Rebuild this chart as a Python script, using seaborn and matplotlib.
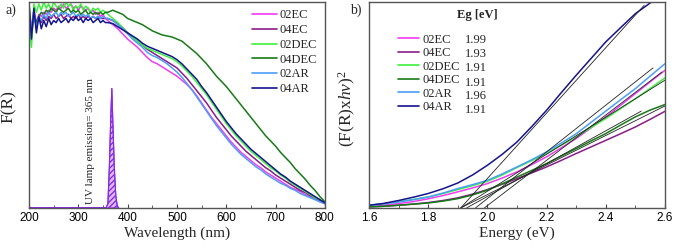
import numpy as np
import pandas as pd
import matplotlib
matplotlib.use("Agg")
import matplotlib.pyplot as plt
from matplotlib.ticker import MultipleLocator
import seaborn as sns

# ---------------- data ----------------
samples = ['02EC', '04EC', '02DEC', '04DEC', '02AR', '04AR']
colors = ['#f03cf0', '#8a1c8a', '#3cf03c', '#167a16', '#4a9ef5', '#14148c']
eg_values = ['1.99', '1.93', '1.91', '1.91', '1.96', '1.91']

# wavelength grid (nm): 5 nm steps in the noisy UV part, 10 nm above
wl_uv = list(range(200, 360, 5))
wl_vis = list(range(360, 810, 10))

fr_uv = {
    '02EC':  [0.95, 0.88, 0.96, 0.90, 0.94, 0.93, 0.95, 0.94, 0.96, 0.95, 0.97, 0.96, 0.98, 0.97, 0.99, 0.97,
              0.98, 0.99, 0.97, 0.98, 0.96, 0.98, 0.97, 0.96, 0.97, 0.95, 0.96, 0.94, 0.95, 0.93, 0.94, 0.92],
    '04EC':  [0.96, 0.84, 0.93, 0.89, 0.92, 0.90, 0.93, 0.91, 0.93, 0.92, 0.94, 0.92, 0.93, 0.94, 0.92, 0.93,
              0.94, 0.92, 0.93, 0.92, 0.94, 0.92, 0.93, 0.92, 0.93, 0.92, 0.93, 0.92, 0.93, 0.92, 0.92, 0.92],
    '02DEC': [0.93, 0.78, 0.99, 0.95, 0.99, 0.96, 1.00, 0.97, 0.99, 0.96, 1.00, 0.98, 0.97, 0.99, 0.97, 1.00,
              0.98, 0.99, 0.96, 0.98, 0.97, 0.99, 0.96, 0.98, 0.97, 0.95, 0.97, 0.96, 0.97, 0.95, 0.96, 0.95],
    '04DEC': [0.90, 0.86, 0.94, 0.90, 0.93, 0.95, 0.94, 0.96, 0.95, 0.97, 0.96, 0.95, 0.97, 0.96, 0.95, 0.96,
              0.97, 0.95, 0.96, 0.95, 0.96, 0.94, 0.95, 0.96, 0.94, 0.95, 0.94, 0.95, 0.94, 0.95, 0.94, 0.95],
    '02AR':  [0.99, 0.86, 0.95, 0.87, 0.93, 0.91, 0.94, 0.92, 0.95, 0.93, 0.94, 0.95, 0.93, 0.95, 0.94, 0.95,
              0.93, 0.94, 0.95, 0.93, 0.94, 0.93, 0.94, 0.93, 0.94, 0.92, 0.93, 0.92, 0.93, 0.92, 0.93, 0.92],
    '04AR':  [1.00, 0.82, 0.97, 0.85, 0.93, 0.87, 0.91, 0.88, 0.92, 0.89, 0.91, 0.90, 0.92, 0.90, 0.91, 0.92,
              0.90, 0.92, 0.91, 0.93, 0.91, 0.92, 0.90, 0.92, 0.91, 0.92, 0.90, 0.91, 0.92, 0.90, 0.91, 0.90],
}
fr_vis = {
    '02EC':  [0.91, 0.89, 0.87, 0.845, 0.82, 0.80, 0.78, 0.755, 0.73, 0.71, 0.70, 0.685, 0.67, 0.655, 0.64,
              0.62, 0.60, 0.575, 0.545, 0.51, 0.475, 0.44, 0.41, 0.38, 0.35, 0.32, 0.295, 0.27, 0.25, 0.23,
              0.21, 0.195, 0.175, 0.16, 0.145, 0.13, 0.115, 0.10, 0.09, 0.08, 0.065, 0.055, 0.045, 0.03, 0.02],
    '04EC':  [0.92, 0.91, 0.895, 0.875, 0.85, 0.83, 0.81, 0.79, 0.77, 0.755, 0.74, 0.725, 0.71, 0.695, 0.68,
              0.655, 0.63, 0.60, 0.57, 0.54, 0.51, 0.475, 0.44, 0.41, 0.38, 0.35, 0.325, 0.30, 0.275, 0.255,
              0.235, 0.215, 0.195, 0.18, 0.16, 0.145, 0.13, 0.115, 0.10, 0.085, 0.075, 0.06, 0.05, 0.035, 0.025],
    '02DEC': [0.94, 0.92, 0.90, 0.875, 0.85, 0.83, 0.81, 0.79, 0.775, 0.765, 0.755, 0.745, 0.735, 0.725, 0.71,
              0.69, 0.665, 0.64, 0.61, 0.58, 0.55, 0.515, 0.48, 0.445, 0.41, 0.38, 0.35, 0.325, 0.30, 0.275,
              0.255, 0.235, 0.215, 0.195, 0.18, 0.16, 0.145, 0.125, 0.11, 0.095, 0.08, 0.065, 0.05, 0.04, 0.025],
    '04DEC': [0.95, 0.96, 0.95, 0.94, 0.92, 0.91, 0.90, 0.89, 0.875, 0.86, 0.85, 0.84, 0.835, 0.83, 0.82,
              0.81, 0.79, 0.77, 0.75, 0.725, 0.70, 0.67, 0.64, 0.615, 0.59, 0.56, 0.53, 0.50, 0.47, 0.44,
              0.41, 0.38, 0.35, 0.325, 0.30, 0.27, 0.245, 0.22, 0.19, 0.165, 0.14, 0.11, 0.085, 0.055, 0.03],
    '02AR':  [0.92, 0.91, 0.89, 0.87, 0.845, 0.82, 0.80, 0.78, 0.755, 0.74, 0.73, 0.715, 0.70, 0.68, 0.66,
              0.635, 0.605, 0.575, 0.54, 0.505, 0.47, 0.435, 0.40, 0.37, 0.34, 0.31, 0.285, 0.26, 0.24, 0.22,
              0.20, 0.185, 0.165, 0.15, 0.135, 0.12, 0.11, 0.095, 0.085, 0.07, 0.06, 0.05, 0.04, 0.03, 0.02],
    '04AR':  [0.90, 0.895, 0.88, 0.865, 0.85, 0.835, 0.82, 0.80, 0.785, 0.775, 0.765, 0.755, 0.745, 0.735, 0.72,
              0.70, 0.675, 0.65, 0.625, 0.59, 0.56, 0.525, 0.49, 0.455, 0.42, 0.39, 0.36, 0.335, 0.31, 0.285,
              0.265, 0.245, 0.225, 0.205, 0.185, 0.165, 0.15, 0.13, 0.115, 0.10, 0.085, 0.07, 0.055, 0.04, 0.025],
}

# UV lamp emission peak
lamp_wl = [200, 356, 360, 363, 366, 368, 370, 373, 376, 379, 382]
lamp_val = [0.0, 0.0, 0.02, 0.2, 0.45, 0.58, 0.42, 0.2, 0.06, 0.01, 0.0]

# Tauc plot
energy = [1.6, 1.65, 1.7, 1.75, 1.8, 1.85, 1.9, 1.95, 2.0, 2.05, 2.1,
          2.15, 2.2, 2.25, 2.3, 2.35, 2.4, 2.45, 2.5, 2.55, 2.6]
tauc = {
    '02EC':  [0.08, 0.14, 0.21, 0.31, 0.44, 0.60, 0.78, 0.97, 1.18, 1.45, 1.75,
              2.10, 2.48, 2.92, 3.37, 3.88, 4.42, 4.98, 5.55, 6.12, 6.68],
    '04EC':  [0.05, 0.08, 0.13, 0.19, 0.26, 0.36, 0.49, 0.67, 0.89, 1.15, 1.42,
              1.70, 1.99, 2.31, 2.64, 2.96, 3.28, 3.60, 3.93, 4.30, 4.69],
    '02DEC': [0.12, 0.20, 0.30, 0.41, 0.53, 0.70, 0.89, 1.08, 1.29, 1.60, 1.96,
              2.30, 2.64, 3.05, 3.45, 3.90, 4.34, 4.82, 5.30, 5.80, 6.31],
    '04DEC': [0.05, 0.08, 0.13, 0.18, 0.24, 0.33, 0.45, 0.63, 0.86, 1.17, 1.50,
              1.82, 2.15, 2.52, 2.88, 3.25, 3.61, 4.02, 4.42, 4.75, 5.02],
    '02AR':  [0.13, 0.20, 0.29, 0.40, 0.53, 0.72, 0.94, 1.13, 1.34, 1.65, 1.99,
              2.34, 2.72, 3.15, 3.60, 4.15, 4.70, 5.25, 5.79, 6.40, 7.00],
    '04AR':  [0.13, 0.22, 0.36, 0.52, 0.70, 0.93, 1.21, 1.60, 2.07, 2.60, 3.20,
              3.95, 4.74, 5.60, 6.44, 7.25, 8.06, 8.75, 9.43, 9.95, 10.5],
}
# linear fits: x-intercept (Eg) and upper end of each fit line
fit_eg = [1.99, 1.93, 1.91, 1.91, 1.96, 1.91]
fit_end_e = [2.59, 2.52, 2.60, 2.60, 2.56, 2.53]
fit_end_y = [6.60, 4.70, 6.20, 4.95, 6.80, 9.84]

# ---------------- long tables ----------------
wl = wl_uv + wl_vis
df_fr = pd.concat([pd.DataFrame({'wl': wl, 'F': fr_uv[s] + fr_vis[s], 'sample': s}) for s in samples])
df_tauc = pd.concat([pd.DataFrame({'E': energy, 'T': tauc[s], 'sample': s}) for s in samples])
palette = dict(zip(samples, colors))

# ---------------- style ----------------
sns.set_theme(style='ticks')
plt.rcParams['font.family'] = ['Liberation Serif', 'DejaVu Serif']
plt.rcParams['mathtext.fontset'] = 'custom'
plt.rcParams['mathtext.rm'] = 'Liberation Serif'
plt.rcParams['mathtext.it'] = 'Liberation Serif:italic'

fig = plt.figure(figsize=(6.74, 2.49), dpi=100)
ax1 = fig.add_axes([0.043, 0.165, 0.439, 0.827])
ax2 = fig.add_axes([0.5475, 0.165, 0.439, 0.827])

# ---------- panel a ----------
sns.lineplot(data=df_fr, x='wl', y='F', hue='sample', hue_order=samples, palette=palette,
             estimator=None, linewidth=1.1, ax=ax1, legend=False)
ax1.fill_between(lamp_wl, 0, lamp_val, facecolor='#dcbcf5', edgecolor='#8a2be2',
                 hatch='//////', linewidth=0.8)
ax1.plot(lamp_wl, lamp_val, color='#8a2be2', linewidth=0.8)
ax1.text(324, 0.02, 'UV lamp emission= 365 nm', rotation=90, fontsize=8,
         ha='center', va='bottom')
ax1.set_xlim(200, 800)
ax1.set_ylim(0, 1.0)
ax1.xaxis.set_major_locator(MultipleLocator(100))
ax1.xaxis.set_minor_locator(MultipleLocator(50))
ax1.set_yticks([])
ax1.set_xlabel('Wavelength (nm)', fontsize=11, labelpad=2)
ax1.set_ylabel('F(R)', fontsize=12.5)
ax1.yaxis.set_label_coords(-0.04, 0.49)
handles = [plt.Line2D([], [], color=c, lw=1.2) for c in colors]
ax1.legend(handles, samples, loc='upper right', bbox_to_anchor=(1.0, 1.0), frameon=False,
           fontsize=9, handlelength=2.0, handletextpad=0.2, labelspacing=0.22, borderaxespad=0.2)
fig.text(5 / 674, 1 - 10 / 249, 'a)', fontsize=10, va='center', ha='left')

# ---------- panel b ----------
sns.lineplot(data=df_tauc, x='E', y='T', hue='sample', hue_order=samples, palette=palette,
             estimator=None, linewidth=1.1, ax=ax2, legend=False)
for eg, xe, ye in zip(fit_eg, fit_end_e, fit_end_y):
    ax2.plot([eg, xe], [0, ye], color='#222222', linewidth=0.6)
ax2.set_xlim(1.6, 2.6)
ax2.set_ylim(0, 10)
ax2.xaxis.set_major_locator(MultipleLocator(0.2))
ax2.xaxis.set_minor_locator(MultipleLocator(0.1))
ax2.set_yticks([])
ax2.set_xlabel('Energy (eV)', fontsize=11, labelpad=2)
ax2.set_ylabel(r'(F(R)x$\mathit{hv}$)$^2$', fontsize=12.5)
ax2.yaxis.set_label_coords(-0.037, 0.485)
ax2.legend(handles, samples, loc='upper left', bbox_to_anchor=(0.08, 0.87), frameon=False,
           fontsize=9, handlelength=1.7, handletextpad=0.25, labelspacing=0.12, borderaxespad=0.0)
row_y = [0.816, 0.748, 0.678, 0.608, 0.542, 0.474]
for v, yy in zip(eg_values, row_y):
    ax2.text(0.324, yy, v, transform=ax2.transAxes, fontsize=9, va='center', ha='left')
ax2.text(0.365, 0.937, 'Eg [eV]', transform=ax2.transAxes, fontsize=9, fontweight='bold',
         va='center', ha='center')
fig.text(350 / 674, 1 - 10 / 249, 'b)', fontsize=10, va='center', ha='left')

for ax in (ax1, ax2):
    ax.tick_params(axis='x', which='major', direction='in', length=3, width=0.8, pad=3,
                   colors='#444444', labelcolor='black')
    ax.tick_params(axis='x', which='minor', direction='in', length=2, width=0.6, colors='#444444')
    for sp in ax.spines.values():
        sp.set_visible(True)
        sp.set_color('#555555')
        sp.set_linewidth(1.0)
ax1.set_xticks([200, 300, 400, 500, 600, 700, 800])
ax1.set_xticklabels(['200', '300', '400', '500', '600', '700', '800'],
                    fontfamily='Liberation Sans', fontsize=8.5)
ax2.set_xticks([1.6, 1.8, 2.0, 2.2, 2.4, 2.6])
ax2.set_xticklabels(['1.6', '1.8', '2.0', '2.2', '2.4', '2.6'], fontfamily='Liberation Sans', fontsize=8.5)

fig.savefig('out.png', dpi=100)
